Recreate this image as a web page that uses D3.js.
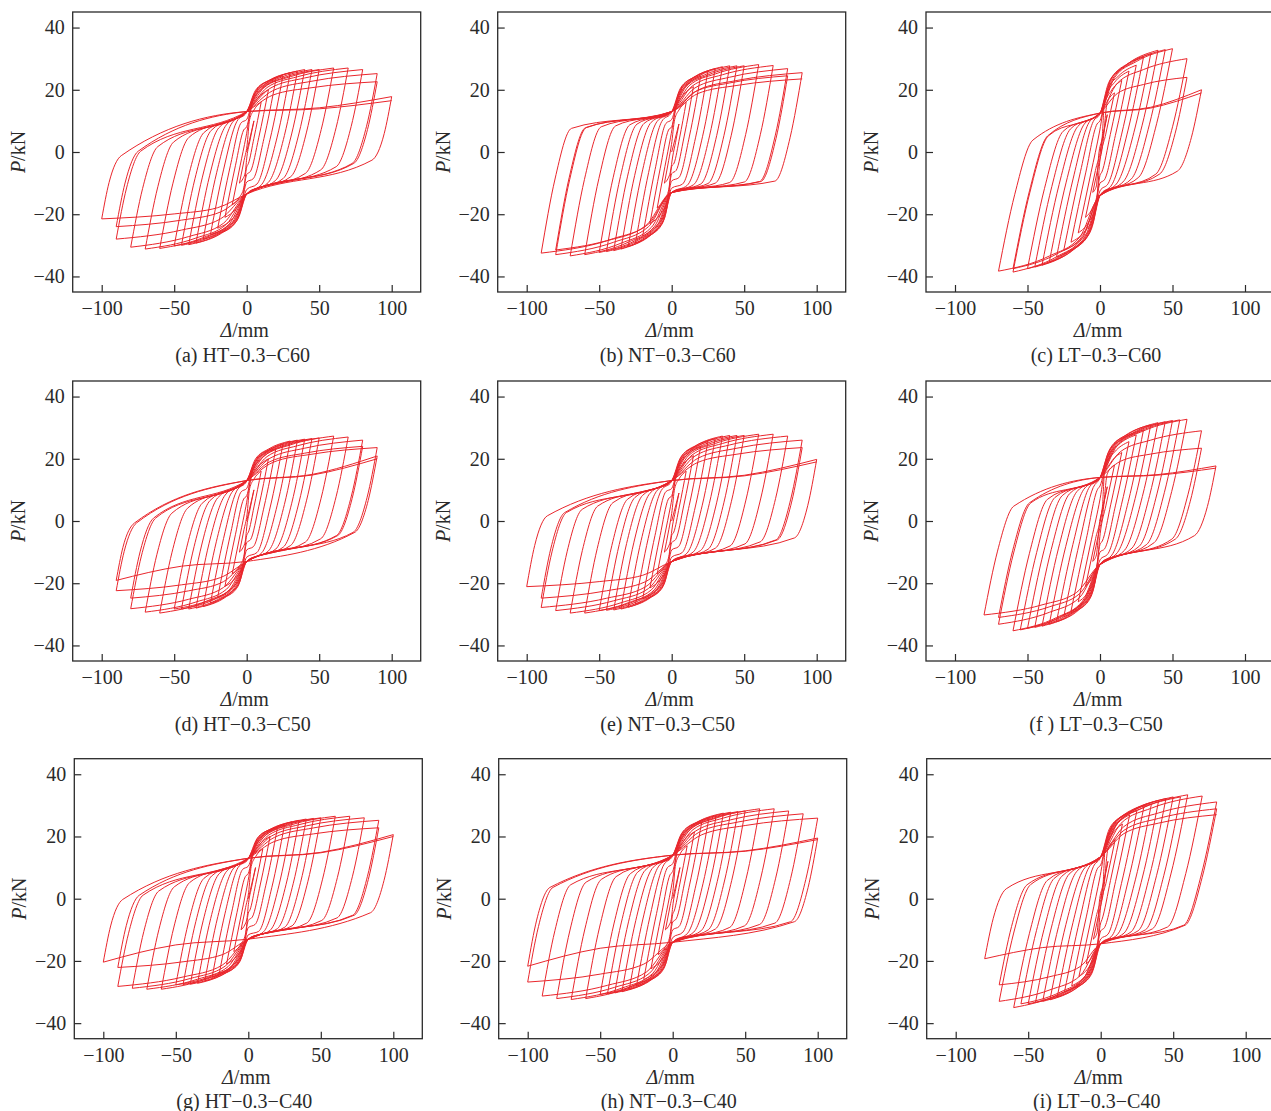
<!DOCTYPE html>
<html>
<head>
<meta charset="utf-8">
<script src="https://cdn.jsdelivr.net/npm/d3@7"></script>
<style>
  body { margin: 0; background: #fff; }
  svg { display: block; font-family: 'Liberation Serif', 'Times New Roman', serif; }
</style>
</head>
<body>
<svg id="chart" width="1271" height="1111"></svg>
<script>
// Panel captions
const panelNames = [
  '(a) HT−0.3−C60', '(b) NT−0.3−C60', '(c) LT−0.3−C60',
  '(d) HT−0.3−C50', '(e) NT−0.3−C50', '(f ) LT−0.3−C50',
  '(g) HT−0.3−C40', '(h) NT−0.3−C40', '(i) LT−0.3−C40'
];

// Tick labels
const xTicks = [-100, -50, 0, 50, 100];
const yTicks = [-40, -20, 0, 20, 40];

// Reversal points of each test, in loading order (displacement mm / load kN)
const dispA = [5, -5, 10, -10, 15, -15, 20, -20, 25, -25, 30, -30, 35, -35, 40, -40, 45, -45, 50, -50, 60, -60, 70, -70, 80, -80, 90, -90, 90, -90, 100, -100, 100];
const loadA = [10, -10, 16, -17, 20, -21, 23, -24.5, 24.5, -26.5, 25.5, -28, 26, -29.3, 26.5, -29.8, 26.5, -30, 26.5, -30.2, 27, -31, 27, -31.2, 26.5, -30.6, 25.2, -28, 22.6, -24, 17.8, -21.5, 16.5];

const dispB = [5, -5, 10, -10, 15, -15, 20, -20, 25, -25, 30, -30, 35, -35, 40, -40, 45, -45, 50, -50, 60, -60, 70, -70, 80, -80, 80, -80, 90, -90, 90];
const loadB = [9, -10, 16, -18, 21, -23, 24.5, -27, 26, -29.3, 26.8, -30.4, 27.4, -31.2, 27.7, -31.7, 27.7, -32, 27.7, -32.3, 28.1, -33, 27.8, -33.4, 26.8, -33, 24.5, -31.5, 25.5, -32.5, 23.5];

const dispC = [5, -5, 10, -10, 15, -15, 20, -20, 25, -25, 30, -30, 35, -35, 40, -40, 45, -45, 50, -50, 60, -60, 60, -60, 70, -70, 70];
const loadC = [12, -13, 19, -21, 23, -26, 26, -29, 27.9, -31.6, 30.5, -33.8, 31.6, -35.4, 32.7, -36.4, 32.9, -37, 33.2, -37.5, 30, -38.6, 24, -37.5, 20, -38.3, 19];

const dispD = [5, -5, 10, -10, 15, -15, 20, -20, 25, -25, 30, -30, 35, -35, 40, -40, 45, -45, 50, -50, 60, -60, 70, -70, 80, -80, 80, -80, 90, -90, 90, -90, 90];
const loadD = [10, -10, 16, -17, 20, -21, 23, -24.5, 24.7, -26.4, 25.7, -27.5, 26, -28, 26.3, -28.3, 26.5, -28.3, 26.7, -28.3, 27.3, -29.6, 27, -29.3, 26, -28.2, 24, -24.8, 23.6, -22.4, 20.9, -19.1, 20];

const dispE = [5, -5, 10, -10, 15, -15, 20, -20, 25, -25, 30, -30, 35, -35, 40, -40, 45, -45, 50, -50, 60, -60, 70, -70, 80, -80, 90, -90, 90, -90, 100, -100, 100];
const loadE = [9, -10, 16, -17, 21, -21.5, 24, -25, 25.5, -26.7, 26.5, -27.7, 27.3, -28.3, 27.5, -28.6, 27.5, -28.7, 27.5, -28.8, 27.9, -29.6, 27.9, -29.6, 27.3, -28.8, 26, -27.8, 23.6, -24.8, 19.8, -21.1, 19];

const dispF = [5, -5, 10, -10, 15, -15, 20, -20, 25, -25, 30, -30, 35, -35, 40, -40, 45, -45, 50, -50, 55, -55, 60, -60, 70, -70, 70, -70, 80, -80, 80];
const loadF = [11, -13, 18, -21, 22, -26, 25.5, -29, 27.7, -30.8, 29.3, -32.4, 30.9, -33.2, 31.6, -33.8, 31.9, -34.2, 32.3, -34.5, 32.5, -35, 32.7, -35.3, 29, -33.2, 23.4, -31, 17.7, -30.2, 17];

const dispG = [5, -5, 10, -10, 15, -15, 20, -20, 25, -25, 30, -30, 35, -35, 40, -40, 45, -45, 50, -50, 60, -60, 70, -70, 80, -80, 90, -90, 90, -90, 100, -100, 100];
const loadG = [10, -10, 16, -17, 20, -21, 22.5, -24, 23.8, -25.3, 24.7, -26.4, 25.2, -27.2, 25.6, -27.5, 25.8, -27.6, 26, -27.7, 26.5, -29.1, 26.5, -29.1, 26, -28.8, 25.2, -28.2, 22.8, -22.1, 20.6, -20.4, 20];

const dispH = [5, -5, 10, -10, 15, -15, 20, -20, 25, -25, 30, -30, 35, -35, 40, -40, 45, -45, 50, -50, 60, -60, 70, -70, 80, -80, 90, -90, 100, -100, 100, -100, 100];
const loadH = [10, -10, 17, -18, 21.5, -22.5, 24.5, -26, 25.9, -28.1, 26.7, -29.2, 27.5, -29.9, 27.8, -30.3, 28, -30.6, 28.2, -30.8, 28.9, -32.1, 28.9, -32.4, 28.2, -32.1, 27.3, -31.3, 25.9, -26.8, 19.5, -21.7, 19];

const dispI = [5, -5, 10, -10, 15, -15, 20, -20, 25, -25, 30, -30, 35, -35, 40, -40, 45, -45, 50, -50, 55, -55, 60, -60, 70, -70, 80, -70, 80, -80, 80];
const loadI = [12, -13, 19, -21, 24, -25, 27, -28, 28.4, -30, 30, -31.6, 30.5, -32.5, 31.6, -33, 32.2, -33.4, 32.7, -33.8, 32.7, -33.8, 33.4, -35, 33, -33, 31.1, -27.7, 28.9, -19.3, 27];

const panelDisp = [dispA, dispB, dispC, dispD, dispE, dispF, dispG, dispH, dispI];
const panelLoad = [loadA, loadB, loadC, loadD, loadE, loadF, loadG, loadH, loadI];

// Loop shape: load at zero displacement on the way up / down,
// unloading stiffness (kN/mm) and knee load after unloading (a - b * amplitude)
const pinchUp = [13, 13, 12.5, 13, 13, 14, 13, 14, 13.5];
const pinchDown = [13.5, 13, 14, 13, 13, 14, 13, 14, 14.5];
const unloadStiff = [2.3, 2.5, 2.2, 2.3, 2.4, 2.2, 2.3, 2.4, 2.2];
const kneeUp = [[12, 0.14], [9, 0.02], [12, 0.13], [12, 0.15], [11, 0.1], [12, 0.1], [12, 0.13], [11, 0.08], [12, 0.12]];
const kneeDown = [[12, 0.1], [10, 0.01], [11, 0.08], [12, 0.1], [11, 0.06], [12, 0.1], [12, 0.08], [11, 0.04], [12, 0.05]];

// Frame position of every panel (left, top)
const frames = [
  [72.7, 12], [497.7, 12], [926, 12],
  [72.7, 381], [497.7, 381], [926, 381],
  [74.3, 758.7], [498.7, 758.7], [926.7, 758.7]
];
const plotW = 348;
const plotH = 280;
const red = '#e9262c';
const ink = '#2a2a2a';

/**
 * Key points of a branch loading to the right, from (-a0, q0) to (a1, q1).
 * A branch to the left is built with the same function on mirrored values.
 */
function branchPoints(a0, q0, a1, q1, z, knee, ku) {
  const m = (a0 + a1) / 2;
  const Z = z * Math.min(1, m / 28);
  const degraded = a1 > 40 && q1 - Z < 8;
  const z0 = degraded ? Math.min(Z, q1 - 3) : Z;
  const K = Math.min(knee[0] - knee[1] * a0, z0 - 1.5);
  const xk = -a0 + (K - q0) / ku;

  // steep unloading, then a rounded knee onto the pinched part
  const slope = xk < 0 ? (z0 - K) / -xk : 0;
  const r = Math.max(0, Math.min(5, -0.3 * xk));
  const raw = [
    [-a0 + 0.6 * (xk + a0), q0 + 0.6 * (K - q0)],
    [xk + r, K + r * slope],
    [0, z0]
  ];
  if (degraded) {
    raw.push([0.5 * a1, z0 + 0.25 * (q1 - z0)]);
  } else {
    raw.push([0.2 * a1, z0 + 0.55 * (q1 - z0)]);
    raw.push([0.5 * a1, z0 + 0.8 * (q1 - z0)]);
  }

  const pts = [[-a0, q0]];
  raw.forEach(([px, py]) => {
    const [lx, ly] = pts[pts.length - 1];
    if (px > lx + 0.8 && px < a1 - 0.8) {
      pts.push([px, Math.min(Math.max(py, ly), q1)]);
    }
  });
  pts.push([a1, q1]);
  return pts;
}

const svg = d3.select('#chart');

panelNames.forEach((name, p) => {
  const [left, top] = frames[p];

  const x = d3.scaleLinear().domain([-120, 120]).range([0, plotW]);
  const y = d3.scaleLinear().domain([-45, 45]).range([plotH, 0]);

  const g = svg.append('g').attr('transform', `translate(${left},${top})`);

  // Clip the curves to the frame
  g.append('clipPath')
    .attr('id', `clip${p}`)
    .append('rect')
    .attr('width', plotW)
    .attr('height', plotH);

  // Build all branches of the hysteresis loops
  const disp = panelDisp[p];
  const load = panelLoad[p];
  const branches = [];
  let prev = [0, 0];
  disp.forEach((d, i) => {
    const target = [d, load[i]];
    let pts;
    if (prev[0] === 0) {
      pts = [prev, target];
    } else if (d > 0) {
      pts = branchPoints(-prev[0], prev[1], d, load[i], pinchUp[p], kneeUp[p], unloadStiff[p]);
    } else {
      pts = branchPoints(prev[0], -prev[1], -d, -load[i], pinchDown[p], kneeDown[p], unloadStiff[p])
        .map(([px, py]) => [-px, -py]);
    }
    branches.push(pts);
    prev = target;
  });

  const line = d3
    .line()
    .x((d) => x(d[0]))
    .y((d) => y(d[1]))
    .curve(d3.curveMonotoneX);

  g.append('g')
    .attr('clip-path', `url(#clip${p})`)
    .selectAll('path')
    .data(branches)
    .enter()
    .append('path')
    .attr('d', line)
    .attr('fill', 'none')
    .attr('stroke', red)
    .attr('stroke-width', 1)
    .attr('stroke-linejoin', 'round');

  // Axes with inward ticks
  const xAxisGroup = g
    .append('g')
    .attr('transform', `translate(0,${plotH})`)
    .call(d3.axisBottom(x).tickValues(xTicks).tickSizeInner(-7).tickSizeOuter(0).tickPadding(9));
  const yAxisGroup = g
    .append('g')
    .call(d3.axisLeft(y).tickValues(yTicks).tickSizeInner(-7).tickSizeOuter(0).tickPadding(8));

  [xAxisGroup, yAxisGroup].forEach((ax) => {
    ax.select('.domain').remove();
    ax.selectAll('line').attr('stroke', ink).attr('stroke-width', 1.2);
    ax.selectAll('text')
      .attr('fill', ink)
      .style('font-family', "'Liberation Serif', serif")
      .style('font-size', '20px');
  });

  // Frame
  g.append('rect')
    .attr('width', plotW)
    .attr('height', plotH)
    .attr('fill', 'none')
    .attr('stroke', ink)
    .attr('stroke-width', 1.3);

  // Axis labels
  const xLabel = g
    .append('text')
    .attr('x', x(0) - 2)
    .attr('y', plotH + 45)
    .attr('text-anchor', 'middle')
    .attr('fill', ink)
    .style('font-size', '20px');
  xLabel.append('tspan').style('font-style', 'italic').text('Δ');
  xLabel.append('tspan').text('/mm');

  const yLabel = g
    .append('text')
    .attr('transform', `translate(-48,${y(0)}) rotate(-90)`)
    .attr('text-anchor', 'middle')
    .attr('fill', ink)
    .style('font-size', '20px');
  yLabel.append('tspan').style('font-style', 'italic').text('P');
  yLabel.append('tspan').text('/kN');

  // Caption
  g.append('text')
    .attr('x', x(0) - 4)
    .attr('y', plotH + 69.5)
    .attr('text-anchor', 'middle')
    .attr('fill', ink)
    .style('font-size', '20px')
    .text(name);
});
</script>
</body>
</html>
